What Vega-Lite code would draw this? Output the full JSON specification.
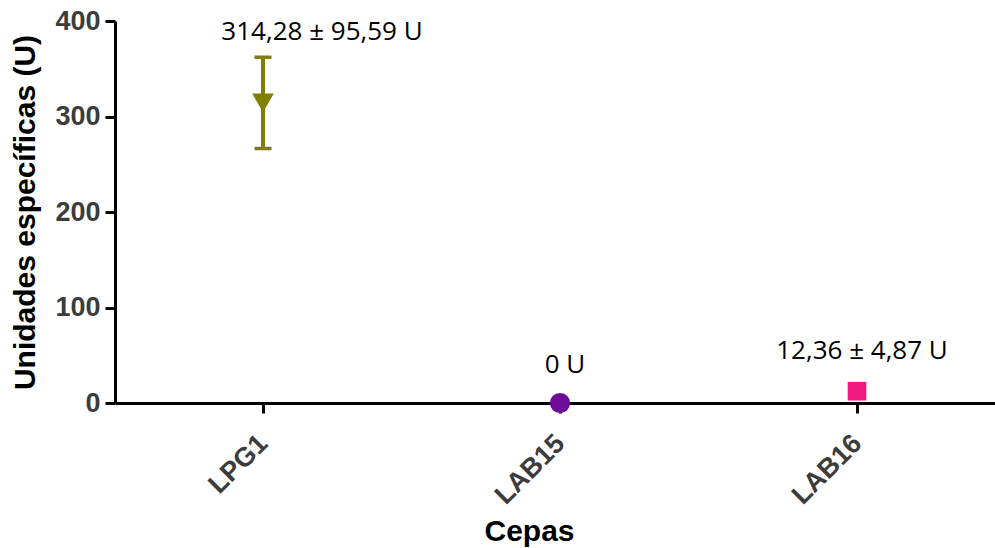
{
  "$schema": "https://vega.github.io/schema/vega-lite/v6.json",
  "width": 880,
  "height": 382,
  "autosize": {"type": "none"},
  "padding": {"left": 115, "top": 21, "right": 0, "bottom": 145},
  "background": "white",
  "config": {
    "view": {"stroke": null},
    "font": "Liberation Sans",
    "axis": {
      "domainColor": "black",
      "domainWidth": 3,
      "tickColor": "black",
      "tickWidth": 3,
      "tickSize": 10,
      "grid": false,
      "labelFont": "Liberation Sans",
      "labelFontWeight": "bold",
      "labelFontSize": 27,
      "labelColor": "#3c3c3c",
      "titleFont": "Liberation Sans",
      "titleFontWeight": "bold",
      "titleFontSize": 30,
      "titleColor": "black"
    }
  },
  "data": {
    "values": [
      {"cepa": "LPG1", "media": 314.28, "low": 266.485, "high": 362.075, "label": "314,28 ± 95,59 U"},
      {"cepa": "LAB15", "media": 0, "low": 0, "high": 0, "label": "0 U"},
      {"cepa": "LAB16", "media": 12.36, "low": 9.925, "high": 14.795, "label": "12,36 ± 4,87 U"}
    ]
  },
  "encoding": {
    "x": {
      "field": "cepa",
      "type": "nominal",
      "sort": ["LPG1", "LAB15", "LAB16"],
      "scale": {"type": "point", "padding": 0.4815, "align": 0.5175},
      "axis": {
        "title": "Cepas",
        "labelAngle": -45,
        "labelAlign": "right",
        "labelBaseline": "middle",
        "labelPadding": 26,
        "titleX": 414,
        "titleY": 137,
        "titleBaseline": "alphabetic",
        "titleAlign": "center"
      }
    },
    "color": {
      "field": "cepa",
      "type": "nominal",
      "scale": {"domain": ["LPG1", "LAB15", "LAB16"], "range": ["#808000", "#6e0c9c", "#f0187f"]},
      "legend": null
    }
  },
  "layer": [
    {
      "mark": {"type": "rule", "strokeWidth": 4},
      "encoding": {
        "y": {
          "field": "low",
          "type": "quantitative",
          "scale": {"domain": [0, 400], "nice": false},
          "axis": {
            "title": "Unidades específicas (U)",
            "values": [0, 100, 200, 300, 400],
            "labelPadding": 5,
            "titlePadding": 14
          }
        },
        "y2": {"field": "high"}
      }
    },
    {
      "mark": {"type": "tick", "thickness": 3.5, "size": 17, "opacity": 1},
      "encoding": {"y": {"field": "low", "type": "quantitative"}}
    },
    {
      "mark": {"type": "tick", "thickness": 3.5, "size": 17, "opacity": 1},
      "encoding": {"y": {"field": "high", "type": "quantitative"}}
    },
    {
      "mark": {"type": "point", "filled": true, "opacity": 1},
      "encoding": {
        "y": {"field": "media", "type": "quantitative"},
        "shape": {
          "field": "cepa",
          "type": "nominal",
          "scale": {"domain": ["LPG1", "LAB15", "LAB16"], "range": ["triangle-down", "circle", "square"]},
          "legend": null
        },
        "size": {
          "field": "cepa",
          "type": "nominal",
          "scale": {"domain": ["LPG1", "LAB15", "LAB16"], "range": [470, 346, 400]},
          "legend": null
        }
      }
    },
    {
      "transform": [{"filter": "datum.cepa === 'LPG1'"}],
      "mark": {"type": "text", "font": "Open Sans", "fontSize": 26, "baseline": "alphabetic", "align": "center", "dx": 59, "dy": -17},
      "encoding": {
        "y": {"field": "high", "type": "quantitative"},
        "text": {"field": "label"},
        "color": {"value": "black"}
      }
    },
    {
      "transform": [{"filter": "datum.cepa !== 'LPG1'"}],
      "mark": {"type": "text", "font": "Open Sans", "fontSize": 26, "baseline": "alphabetic", "align": "center", "dx": 5, "dy": -30},
      "encoding": {
        "y": {"field": "high", "type": "quantitative"},
        "text": {"field": "label"},
        "color": {"value": "black"}
      }
    }
  ]
}
